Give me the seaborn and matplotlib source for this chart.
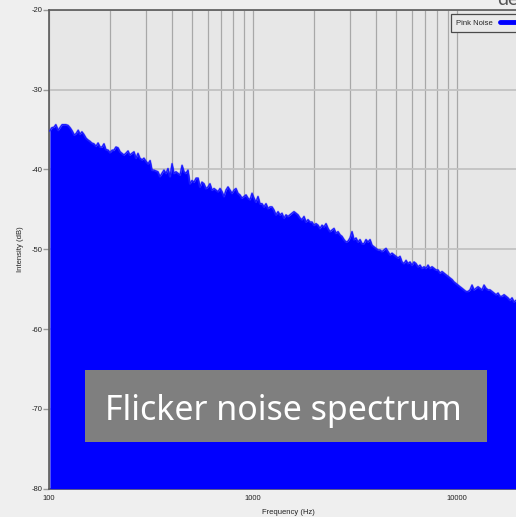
import numpy as np
import pandas as pd
import matplotlib
matplotlib.use("Agg")
import matplotlib.pyplot as plt
import seaborn as sns
from matplotlib.lines import Line2D
from matplotlib.patches import Rectangle
from matplotlib.ticker import FixedLocator, NullFormatter

# ---------------- data ----------------
freq_hz = [
    101, 103, 106, 108, 111, 113, 116, 118, 121, 124,
    127, 130, 133, 136, 139, 142, 145, 148, 152, 155,
    159, 162, 166, 170, 174, 178, 182, 186, 190, 195,
    199, 204, 208, 213, 218, 223, 228, 233, 238, 244,
    249, 255, 261, 267, 273, 279, 286, 292, 299, 306,
    313, 320, 327, 335, 342, 350, 358, 366, 375, 383,
    392, 401, 410, 419, 429, 439, 449, 459, 469, 480,
    491, 502, 514, 526, 538, 550, 562, 575, 588, 602,
    615, 630, 644, 659, 674, 689, 705, 721, 737, 754,
    771, 789, 807, 825, 844, 863, 883, 903, 924, 945,
    967, 989,
    1011, 1034, 1058, 1082, 1107, 1132, 1158, 1184, 1212, 1239,
    1267, 1296, 1326, 1356, 1387, 1419, 1451, 1484, 1518, 1553,
    1588, 1625, 1662, 1700, 1739, 1778, 1819, 1860, 1903, 1946,
    1991, 2036, 2083, 2130, 2179, 2229, 2280, 2332, 2385, 2439,
    2495, 2552, 2610, 2670, 2731, 2793, 2857, 2922, 2989, 3057,
    3127, 3198, 3271, 3346, 3422, 3500, 3580, 3662, 3746, 3831,
    3919, 4008, 4100, 4193, 4289, 4387, 4487, 4589, 4694, 4801,
    4911, 5023, 5138, 5255, 5375, 5498, 5623, 5752, 5883, 6017,
    6155, 6295, 6439, 6586, 6736, 6890, 7048, 7208, 7373, 7541,
    7714, 7890, 8070, 8254, 8442, 8635, 8832, 9034, 9240, 9451,
    9667, 9888,
    10114, 10344, 10581, 10822, 11069, 11322, 11580, 11845, 12115, 12392,
    12675, 12964, 13260, 13563, 13872, 14189, 14513, 14844, 15183, 15530,
    15885, 16247, 16618, 16998, 17386, 17783, 18189, 18604, 19029, 19463,
]

level_db = [
    # ~100-200 Hz
    -35.2, -34.8, -34.7, -34.4, -35.1, -34.8, -34.4, -34.4, -34.4, -34.5,
    -34.8, -35.2, -35.7, -35.5, -35.1, -35.6, -35.3, -35.6, -36.1, -36.3,
    -36.5, -36.7, -36.8, -37.1, -36.7, -37.2, -37.2, -36.8, -37.5, -37.6,
    -37.9, -37.6, -37.6, -37.2, -37.3, -37.8, -38.0,
    # ~200-500 Hz
    -38.2, -38.0, -37.7, -38.2, -38.0, -37.8, -38.6, -38.0, -38.6, -38.8,
    -38.6, -39.0, -39.3, -38.9, -40.1, -40.1, -40.2, -40.3, -40.9, -40.5,
    -40.1, -40.5, -39.9, -40.9, -39.3, -40.5, -40.3, -40.5, -40.7, -39.5,
    -40.3, -40.5, -40.1, -41.8, -41.4, -41.6, -41.1, -41.1,
    # ~500-1100 Hz
    -42.2, -41.6, -41.8, -42.4, -42.2, -41.8, -42.6, -42.4, -42.6, -42.8,
    -42.4, -42.8, -43.4, -42.6, -42.2, -42.6, -43.0, -42.6, -42.4, -43.0,
    -43.2, -43.6, -43.4, -43.2, -43.6, -43.8, -43.0, -43.6, -44.1, -43.4,
    -44.3, -44.3, -44.7, -44.3, -44.9, -44.7,
    # ~1100-2600 Hz
    -44.7, -45.1, -45.7, -45.3, -45.7, -45.5, -46.1, -45.7, -45.9, -45.7,
    -45.5, -45.3, -45.5, -45.7, -46.1, -46.3, -45.9, -46.6, -46.3, -46.6,
    -46.6, -47.0, -46.8, -47.0, -47.4, -47.0, -47.2, -46.8, -47.4, -47.8,
    -47.6, -47.4, -48.0, -47.8, -48.2, -48.4, -48.8, -49.1, -49.0,
    # ~2600-5600 Hz
    -48.6, -47.8, -48.8, -48.6, -49.1, -48.8, -49.3, -49.3, -48.8, -49.1,
    -48.8, -49.5, -49.7, -49.9, -50.1, -50.1, -50.3, -50.1, -49.9, -50.3,
    -50.7, -50.5, -50.7, -50.9, -51.1, -50.9, -51.6, -51.8, -51.4, -51.8,
    -51.6, -52.0, -51.6, -51.8, -52.2, -52.0,
    # ~5600-19500 Hz
    -52.4, -52.2, -52.4, -52.0, -52.4, -52.2, -52.4, -52.6, -52.6, -53.0,
    -52.8, -53.0, -53.2, -53.4, -53.6, -53.8, -54.1, -54.3, -54.5, -54.7,
    -54.9, -55.1, -55.3, -55.3, -55.1, -54.5, -55.1, -54.9, -54.7, -54.9,
    -55.1, -54.5, -54.9, -55.1, -55.1, -55.3, -55.5, -55.7, -55.5, -55.9,
    -55.9, -55.7, -55.9, -56.1, -56.4, -56.1, -56.6, -56.4,
]

y_ticks = [-20, -30, -40, -50, -60, -70, -80]
x_major_ticks = [100, 1000, 10000]
x_tick_labels = ["100", "1000", "10000"]
x_minor_ticks = [200, 300, 400, 500, 600, 700, 800, 900,
                 2000, 3000, 4000, 5000, 6000, 7000, 8000, 9000, 20000]
series_name = "Pink Noise"
x_label = "Frequency (Hz)"
y_label = "Intensity (dB)"
overlay_text = "Flicker noise spectrum"
x_limits = (100, 22050)
y_limits = (-80, -20)

# ---------------- figure ----------------
sns.set_style("white")
plt.rcParams["font.family"] = ["Liberation Sans", "DejaVu Sans"]

W, H = 516, 517
fig = plt.figure(figsize=(W / 100, H / 100), dpi=100, facecolor="#efefef")
ax_left, ax_right, ax_top, ax_bottom = 49, 527.1, 9.7, 488.7
ax = fig.add_axes([ax_left / W, 1 - ax_bottom / H,
                   (ax_right - ax_left) / W, (ax_bottom - ax_top) / H])
ax.set_facecolor("#e7e7e7")

df = pd.DataFrame({x_label: freq_hz, y_label: level_db})

ax.fill_between(df[x_label], df[y_label], y_limits[0],
                color="#0000ff", lw=0, zorder=3)
sns.lineplot(data=df, x=x_label, y=y_label, ax=ax, color="#0000ff",
             lw=0.9, zorder=4, legend=False)
sns.lineplot(data=df, x=x_label, y=y_label, ax=ax, color="#3a3aff",
             lw=1.6, alpha=0.45, zorder=4, legend=False)

ax.set_xscale("log")
ax.set_xlim(*x_limits)
ax.set_ylim(*y_limits)

ax.xaxis.set_major_locator(FixedLocator(x_major_ticks))
ax.set_xticklabels(x_tick_labels)
ax.xaxis.set_minor_locator(FixedLocator(x_minor_ticks))
ax.xaxis.set_minor_formatter(NullFormatter())
ax.set_yticks(y_ticks)
ax.set_yticklabels([str(v) for v in y_ticks])

ax.grid(which="both", axis="x", color="#a8a8a8", lw=0.9, zorder=1)
ax.grid(which="major", axis="y", color="#c2c2c2", lw=1.3, zorder=1)
ax.set_axisbelow(True)

ax.tick_params(axis="x", which="both", length=0, pad=4.5,
               labelsize=5.5, labelcolor="#222222")
ax.tick_params(axis="y", which="major", length=4, width=1.0, color="#9a9a9a",
               pad=0.5, labelsize=5.5, labelcolor="#222222", left=True)

ax.set_xlabel(x_label, fontsize=5.5, color="#222222", labelpad=5)
ax.set_ylabel(y_label, fontsize=5.5, color="#222222", labelpad=6)

for side in ["left", "top", "bottom"]:
    ax.spines[side].set_visible(True)
    ax.spines[side].set_color("#5a5a5a")
    ax.spines[side].set_linewidth(1.2)
ax.spines["right"].set_visible(False)

leg = ax.legend(handles=[Line2D([], [], color="#0000ff", lw=3.5)],
                labels=[series_name], loc="upper left",
                bbox_to_anchor=(451 / W, 1 - 14 / H), bbox_transform=fig.transFigure,
                borderaxespad=0, fontsize=5.5, frameon=True, fancybox=False,
                edgecolor="#4a4a4a", facecolor="#e9e9e9", framealpha=1,
                markerfirst=False, handlelength=5, handletextpad=0.9, borderpad=0.7)
leg.get_frame().set_linewidth(0.9)
leg.set_zorder(6)

# overlay caption box
fig.add_artist(Rectangle((85 / W, 1 - 441.7 / H), (487 - 85) / W, (441.7 - 370) / H,
                         transform=fig.transFigure, facecolor="#7f7f7f",
                         edgecolor="none", zorder=10))
fig.text(283 / W, 1 - 420 / H, overlay_text, ha="center", va="baseline",
         fontsize=24.4, color="white", family=["Noto Sans", "DejaVu Sans"], zorder=11)

# partially visible heading at top right (cut by the figure edge, as in the reference)
fig.text(497 / W, 1 - 5 / H, "de", ha="left", va="baseline", fontsize=14,
         color="#555555", family=["Lato", "DejaVu Sans"])

fig.savefig("out.png", dpi=100, facecolor=fig.get_facecolor())
